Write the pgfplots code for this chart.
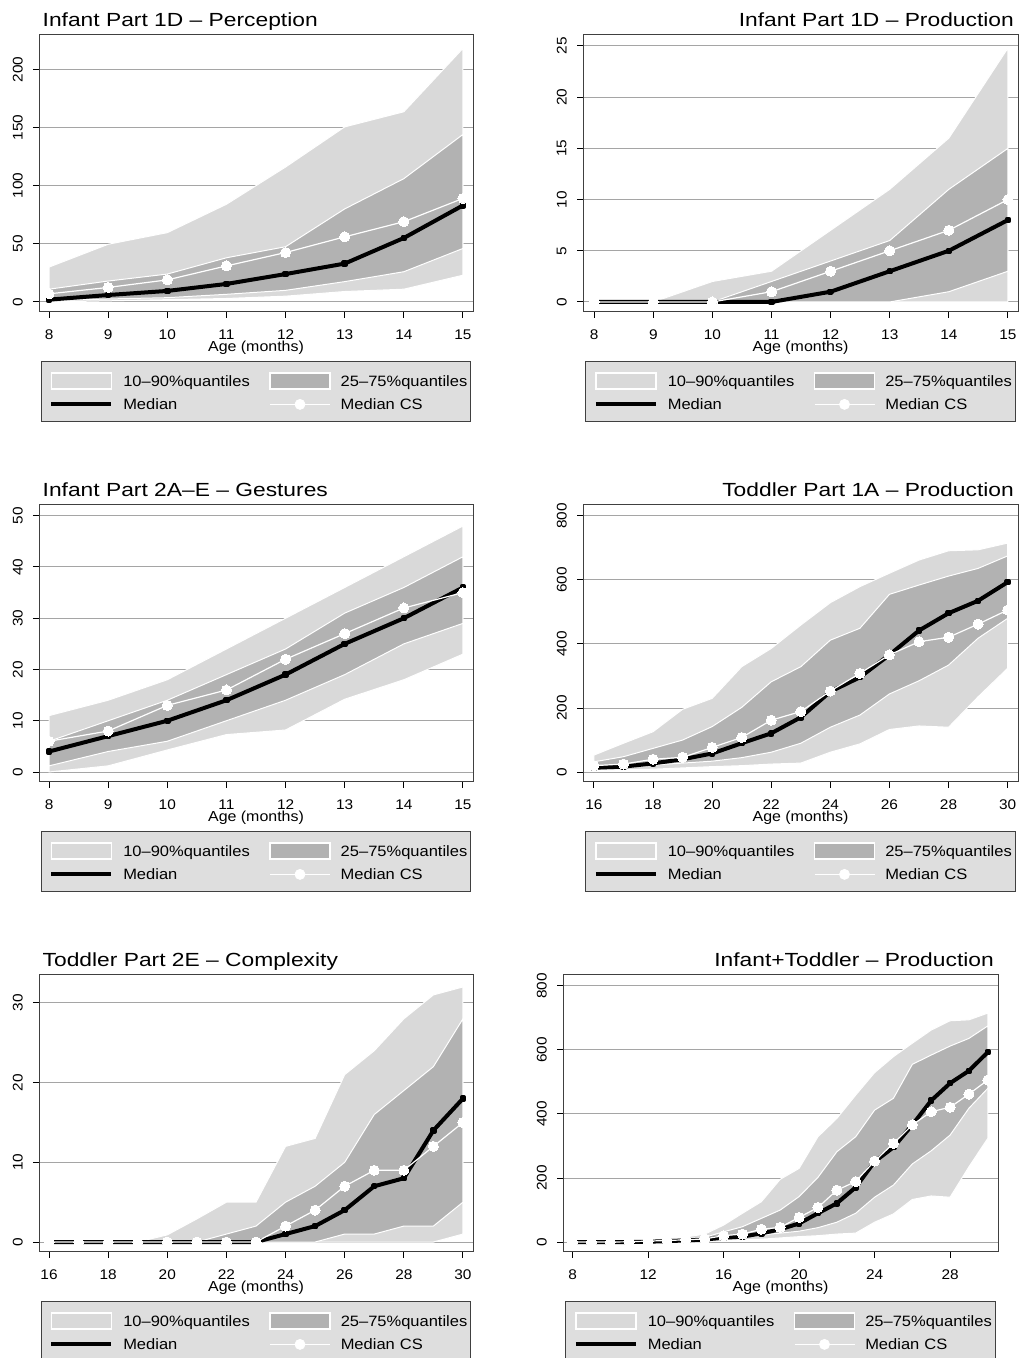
\documentclass[border=0pt]{standalone}
\usepackage{graphicx}
\usepackage{fontspec}
\setmainfont{Liberation Sans}[FakeStretch=1.1]
\newfontfamily\titlefont{Liberation Sans}[FakeStretch=1.2]
\usepackage{pgfplots}
\pgfplotsset{compat=1.18}
\usepgfplotslibrary{fillbetween}
\usepackage{pgfplotstable}

\definecolor{lightband}{RGB}{217,217,217}
\definecolor{darkband}{RGB}{178,178,178}
\definecolor{legendbg}{RGB}{222,222,222}
\definecolor{gridcol}{RGB}{165,165,165}
\definecolor{framecol}{RGB}{64,64,64}

\pgfplotstableread{
x p10 p25 med p75 p90 cs
8 0 1 2 11 30 7
9 1 2.6 6 18 49.6 12.5
10 2 3.7 9.5 24 59.6 19
11 3 6.6 15.5 38 84 31
12 5 10 24 47.5 116 42.5
13 9 17.5 33 80 150.5 56
14 11 26 55 106 163.5 69
15 23 46 83 144 218 89
}\tabA

\pgfplotstableread{
x p10 p25 med p75 p90 cs
8 0 0 0 0 0 0
9 0 0 0 0 0 0
10 0 0 0 0 2 0
11 0 0 0 2 3 1
12 0 0 1 4 7 3
13 0 0 3 6 11 5
14 0 1 5 11 16 7
15 0 3 8 15 24.8 10
}\tabB

\pgfplotstableread{
x p10 p25 med p75 p90 cs
8 0 1.2 4 6 11 6
9 1.2 4 7 10 14 8
10 4.3 6 10 14 18 13
11 7.3 10 14 19 24 16
12 8.2 14 19 24 30 22
13 14.2 19 25 31 36 27
14 18 25 30 36 42 32
15 23 29 36 42 48 35
}\tabC

\pgfplotstableread{
x p10 p25 med p75 p90 cs
16 5 11 13.5 32 53 20
17 7 14 17 48 90 25
18 9 22 27 74 126 40
19 13 28 40 100 196 46
20 17 34 58 142 230 77
21 20 45 90 202 329 108
22 25 62 121 282 386 162
23 28 90 171 329 459 189
24 62 140 251 412 529 253
25 88 178 296 449 579 308
26 133 244 366 555 621 366
27 144 285 442 584 662 407
28 140 334 496 612 691 421
29 235 418 535 636 694 462
30 324 480 593 675 715 506
}\tabD

\pgfplotstableread{
x p10 p25 med p75 p90 cs
16 0 0 0 0 0 0
17 0 0 0 0 0 0
18 0 0 0 0 0 0
19 0 0 0 0 0 0
20 0 0 0 0 0.9 0
21 0 0 0 0 2.9 0
22 0 0 0 1 5 0
23 0 0 0 2 5 0
24 0 0 1 5 12 2
25 0 0 2 7 13 4
26 0 1 4 10 21 7
27 0 1 7 16 24 9
28 0 2 8 19 28 9
29 0 2 14 22 31 12
30 1 5 18 28 32 15
}\tabE

\pgfplotstableread{
x p10 p25 med p75 p90 cs
8 0 0 0 0 0 0
9 0 0 0 0 0 0
10 0 0 0 0 2 0
11 0 0 0 2 3 1
12 0 0 1 4 7 3
13 0 0 3 6 11 5
14 0 1 5 11 16 7
15 0 3 8 15 24.8 10
16 5 11 13.5 32 53 20
17 7 14 17 48 90 25
18 9 22 27 74 126 40
19 13 28 40 100 196 46
20 17 34 58 142 230 77
21 20 45 90 202 329 108
22 25 62 121 282 386 162
23 28 90 171 329 459 189
24 62 140 251 412 529 253
25 88 178 296 449 579 308
26 133 244 366 555 621 366
27 144 285 442 584 662 407
28 140 334 496 612 691 421
29 235 418 535 636 694 462
30 324 480 593 675 715 506
}\tabF

\pgfplotsset{
  panel/.style={
    scale only axis, height=277pt,
    axis line style={draw=framecol, line width=1pt},
    tick style={black, line width=1pt},
    tick align=outside, major tick length=6pt, tick pos=left,
    ymajorgrids, major grid style={gridcol, line width=1pt},
    /pgf/number format/assume math mode=true,
    ticklabel style={font=\fontsize{14}{16}\selectfont},
    xticklabel style={anchor=base, inner sep=0pt}, xticklabel shift=21.5pt,
    yticklabel={\makebox[20pt][l]{\rotatebox{90}{\pgfmathprintnumber{\tick}}}},
    yticklabel style={anchor=east, inner sep=0pt},
    xlabel={Age (months)},
    xlabel style={font=\fontsize{14.5}{17}\selectfont, inner sep=0pt, at={(axis description cs:0.5,0)}, anchor=base, yshift=-40pt},
    legend columns=2, legend cell align=left,
    legend style={at={(0.5,0)}, anchor=north, yshift=-49pt, fill=legendbg, draw=framecol,
      line width=0.8pt, inner xsep=8pt, inner ysep=11pt, font=\fontsize{15}{18}\selectfont,
      nodes={inner sep=0pt, text width=122pt, text height=11.5pt, text depth=0.5pt},
      /tikz/every odd column/.append style={column sep=10pt},
      /tikz/every even column/.append style={column sep=24pt},
      row sep=8.5pt},
  },
  lefttitle/.style={title style={at={(axis description cs:0,1)}, anchor=base west, inner sep=0pt, xshift=3.5pt, yshift=2.5pt, font=\titlefont\fontsize{19}{22}\selectfont}},
  righttitle/.style={title style={at={(axis description cs:1,1)}, anchor=base east, inner sep=0pt, xshift=-4pt, yshift=2.5pt, font=\titlefont\fontsize{19}{22}\selectfont}},
  medstyle/.style={black, line width=4pt, line join=round, mark=square*, mark size=1.2pt, forget plot},
  csstyle/.style={white, line width=1.2pt, line join=round, mark=*, mark size=5pt, mark options={fill=white, draw=white, line width=0pt}, forget plot},
}

\newcommand{\bands}[2]{%
  \addplot[name path=#2uA, draw=none, forget plot] table[x=x, y=p90]{#1};
  \addplot[name path=#2lA, draw=none, forget plot] table[x=x, y=p10]{#1};
  \addplot[name path=#2uB, draw=none, forget plot] table[x=x, y=p75]{#1};
  \addplot[name path=#2lB, draw=none, forget plot] table[x=x, y=p25]{#1};
  \addplot[fill=lightband, draw=white, line width=1pt, forget plot] fill between[of=#2uA and #2lA];
  \addplot[fill=darkband, draw=white, line width=1pt, forget plot] fill between[of=#2uB and #2lB];
  \addplot[medstyle] table[x=x, y=med]{#1};
  \addplot[csstyle] table[x=x, y=cs]{#1};
  \addlegendimage{legend image code/.code={\draw[fill=lightband, draw=white, line width=1.5pt] (0pt,-8pt) rectangle (60pt,8pt);}}
  \addlegendentry{\mbox{10–90\%quantiles}}
  \addlegendimage{legend image code/.code={\draw[fill=darkband, draw=white, line width=1.5pt] (0pt,-8pt) rectangle (60pt,8pt);}}
  \addlegendentry{\mbox{25–75\%quantiles}}
  \addlegendimage{legend image code/.code={\draw[black, line width=4pt] (0pt,0pt) -- (60pt,0pt);}}
  \addlegendentry{\mbox{Median}}
  \addlegendimage{legend image code/.code={\draw[white, line width=1.2pt] (0pt,0pt) -- (60pt,0pt); \fill[white] (30pt,0pt) circle (5pt);}}
  \addlegendentry{\mbox{Median CS}}
}

\begin{document}
\begin{tikzpicture}

% Panel 1
\begin{axis}[panel, lefttitle, at={(39pt,1046pt)}, anchor=south west, width=434pt,
  xmin=7.83, xmax=15.17, ymin=-8.6, ymax=229.5,
  xtick={8,...,15}, ytick={0,50,...,200},
  title={Infant Part 1D – Perception}]
\bands{\tabA}{a}
\end{axis}

% Panel 2
\begin{axis}[panel, righttitle, at={(583pt,1046pt)}, anchor=south west, width=435pt,
  xmin=7.81, xmax=15.17, ymin=-0.98, ymax=26.07,
  xtick={8,...,15}, ytick={0,5,...,25},
  title={Infant Part 1D – Production}]
\bands{\tabB}{b}
\end{axis}

% Panel 3
\begin{axis}[panel, lefttitle, at={(39pt,576pt)}, anchor=south west, width=434pt,
  xmin=7.83, xmax=15.17, ymin=-1.95, ymax=52.1,
  xtick={8,...,15}, ytick={0,10,...,50},
  title={Infant Part 2A–E – Gestures}]
\bands{\tabC}{c}
\end{axis}

% Panel 4
\begin{axis}[panel, righttitle, at={(583pt,576pt)}, anchor=south west, width=435pt,
  xmin=15.63, xmax=30.35, ymin=-31, ymax=834,
  xtick={16,18,...,30}, ytick={0,200,...,800},
  title={Toddler Part 1A – Production}]
\bands{\tabD}{d}
\end{axis}

% Panel 5
\begin{axis}[panel, lefttitle, at={(39pt,106pt)}, anchor=south west, width=434pt,
  xmin=15.66, xmax=30.34, ymin=-1.25, ymax=33.5,
  xtick={16,18,...,30}, ytick={0,10,20,30},
  title={Toddler Part 2E – Complexity}]
\bands{\tabE}{e}
\end{axis}

% Panel 6
\begin{axis}[panel, righttitle, at={(563pt,106pt)}, anchor=south west, width=435pt,
  xmin=7.49, xmax=30.54, ymin=-31, ymax=834,
  xtick={8,12,...,28}, ytick={0,200,...,800},
  title={Infant+Toddler – Production}]
\bands{\tabF}{f}
\end{axis}
\pgfresetboundingbox
\useasboundingbox (0,0) rectangle (1021pt,1358pt);
\end{tikzpicture}
\end{document}
